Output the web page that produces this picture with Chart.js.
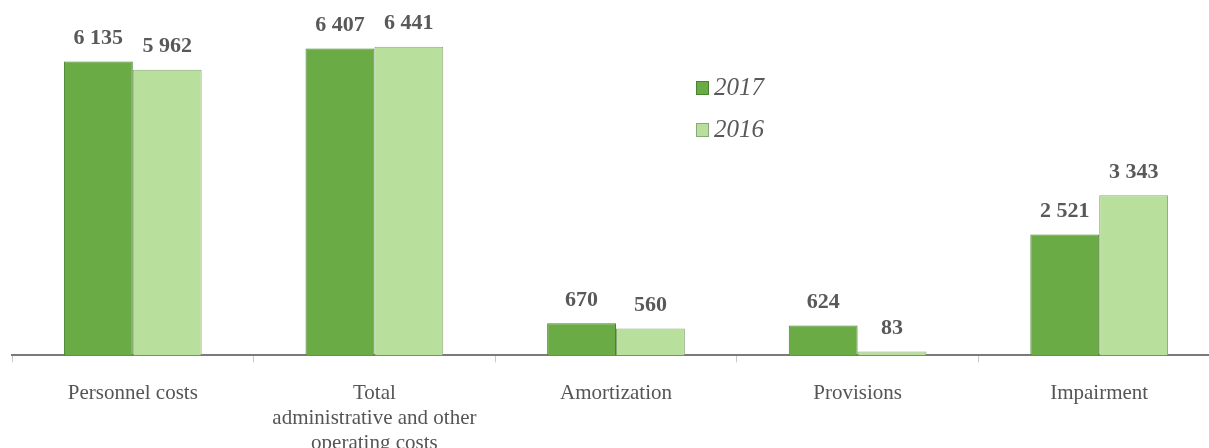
<!DOCTYPE html>
<html>
<head>
<meta charset="utf-8">
<script src="https://cdn.jsdelivr.net/npm/chart.js@4/dist/chart.umd.min.js"></script>
<style>
  html, body { margin: 0; padding: 0; background: #fff; overflow: hidden; }
  #wrap { width: 1209px; height: 448px; overflow: hidden; }
</style>
</head>
<body>
<div id="wrap">
  <canvas id="myChart" width="1222" height="482"></canvas>
</div>
<script>
// categories and values (EUR thousand)
const categories = [
    'Personnel costs',
    ['Total', 'administrative and other', 'operating costs'],
    'Amortization',
    'Provisions',
    'Impairment'
];
const seriesNames = ['2017', '2016'];
const values2017 = [6135, 6407, 670, 624, 2521];
const values2016 = [5962, 6441, 560, 83, 3343];

const colors = ['#6aab45', '#b9df9c'];
const borders = ['#4a8330', '#8aa97a'];

// numbers with a space between thousands: 6 135
function fmt(v) {
    return String(v).replace(/\B(?=(\d{3})+(?!\d))/g, ' ');
}

// value labels above every bar
const valueLabels = {
    id: 'valueLabels',
    afterDatasetsDraw(chart) {
        const ctx = chart.ctx;
        ctx.save();
        ctx.font = 'bold 22px "Liberation Serif"';
        ctx.fillStyle = '#595959';
        ctx.textAlign = 'center';
        ctx.textBaseline = 'middle';
        chart.data.datasets.forEach((ds, i) => {
            chart.getDatasetMeta(i).data.forEach((bar, j) => {
                ctx.fillText(fmt(ds.data[j]), bar.x, bar.y - 23);
            });
        });
        ctx.restore();
    }
};

// legend in the middle of the chart, like the original
const floatingLegend = {
    id: 'floatingLegend',
    afterDraw(chart) {
        const ctx = chart.ctx;
        ctx.save();
        ctx.font = 'italic 25px "Liberation Serif"';
        ctx.textBaseline = 'middle';
        ctx.textAlign = 'left';
        chart.data.datasets.forEach((ds, i) => {
            const y = 88 + i * 42;
            ctx.fillStyle = ds.backgroundColor;
            ctx.fillRect(696, y - 7, 13, 14);
            ctx.strokeStyle = ds.borderColor;
            ctx.lineWidth = 1;
            ctx.strokeRect(696.5, y - 6.5, 12, 13);
            ctx.fillStyle = '#595959';
            ctx.fillText(ds.label, 714, y);
        });
        ctx.restore();
    }
};

const myChartRef = document.getElementById('myChart').getContext('2d');

new Chart(myChartRef, {
    type: 'bar',
    data: {
        labels: categories,
        datasets: [{
            label: seriesNames[0],
            data: values2017,
            backgroundColor: colors[0],
            borderColor: borders[0],
            borderWidth: 1
        }, {
            label: seriesNames[1],
            data: values2016,
            backgroundColor: colors[1],
            borderColor: borders[1],
            borderWidth: 1
        }]
    },
    options: {
        responsive: false,
        animation: false,
        layout: { padding: { left: 12, right: 2, top: 20, bottom: 8 } },
        categoryPercentage: 0.57,
        barPercentage: 1.0,
        plugins: {
            legend: { display: false },
            tooltip: { enabled: false }
        },
        scales: {
            y: {
                display: false,
                min: 0,
                max: 7000
            },
            x: {
                grid: {
                    drawOnChartArea: false,
                    drawTicks: true,
                    tickLength: 7,
                    color: '#c8c8c8'
                },
                border: { display: true, color: '#7a7a7a', width: 2 },
                ticks: {
                    padding: 18,
                    color: '#555',
                    maxRotation: 0,
                    autoSkip: false,
                    font: { family: '"Liberation Serif"', size: 21, lineHeight: 1.2 }
                }
            }
        }
    },
    plugins: [valueLabels, floatingLegend]
});
</script>
</body>
</html>
